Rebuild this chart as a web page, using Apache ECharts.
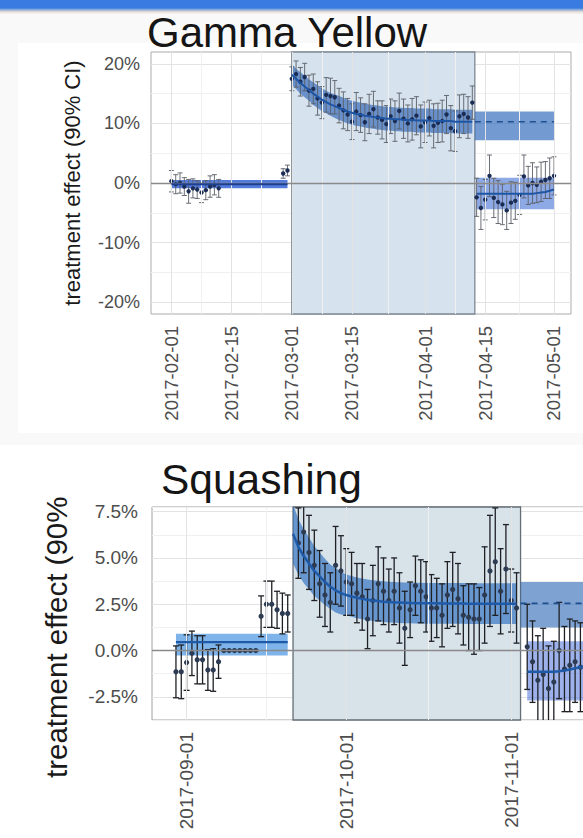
<!DOCTYPE html>
<html><head><meta charset="utf-8">
<script src="https://cdn.jsdelivr.net/npm/echarts@6/dist/echarts.min.js"></script>
<style>
html,body{margin:0;padding:0;width:583px;height:838px;overflow:hidden;background:#f9f9f9;}
#bar{position:absolute;left:0;top:0;width:583px;height:14px;background:linear-gradient(#3a7be2 0,#3a7be2 8px,#9ab6d6 10px,#eadfdc 12px,#f7f4f3 14px);}
#p1{position:absolute;left:18px;top:43px;width:565px;height:390px;background:#fff;}
#p2{position:absolute;left:0;top:445px;width:583px;height:393px;background:#fff;}
#chart{position:absolute;left:0;top:0;width:583px;height:838px;}
</style></head>
<body><div id="bar"></div><div id="p1"></div><div id="p2"></div><div id="chart"></div>
<script>
// ---------- Gamma Yellow ----------
const gyTicks = ['2017-02-01','2017-02-15','2017-03-01','2017-03-15','2017-04-01','2017-04-15','2017-05-01'];
const gyMinor = ['2017-02-08','2017-02-22','2017-03-08','2017-03-23 12:00','2017-04-08','2017-04-23'];
const gyShade = ['2017-03-01','2017-04-12 14:00'];
const gyPreStart = '2017-02-01';
const gyPreVals = [0.3,-0.2,0.0,-0.6,-1.4,-0.9,-1.1,-1.6,-1.2,-0.6,-0.3,-0.9];
const gyPreErr  = [1.8,1.6,1.7,1.5,2.0,1.6,1.5,1.7,1.6,1.8,1.7,1.5];
const gyLateStart = '2017-02-27';
const gyLateVals = [1.6,2.1];
const gyLateErr = [0.8,0.9];
const gyPreFitDates = ['2017-02-01','2017-02-28'];
const gyPreFit = [-0.2,-0.2];
const gyPreLo = [-0.9,-0.9];
const gyPreHi = [0.5,0.5];
const gyTreatStart = '2017-03-01';
const gyTreatVals = [17.5,18.3,17.0,17.8,15.5,15.8,14.2,13.5,14.8,14.6,
  14.4,13.0,12.2,11.5,10.3,12.0,11.4,10.2,11.6,12.4,
  11.0,10.6,9.9,11.2,10.4,12.1,10.8,10.0,10.7,11.3,
  9.5,10.2,10.9,9.6,10.1,10.4,11.5,9.2,8.7,11.2,
  11.6,11.0,13.5];
const gyTreatErr = [2.0,2.2,2.4,2.3,2.6,2.5,2.8,2.7,2.9,3.0,
  2.8,2.9,3.1,2.7,3.0,3.2,2.9,3.1,3.3,3.0,
  2.8,3.2,3.1,2.9,3.4,3.0,3.3,3.1,3.5,3.2,
  3.6,3.4,3.0,3.7,3.3,3.5,3.2,3.8,3.4,3.6,
  3.3,3.5,2.8];
const gyTreatFit = [18.2,17.5,16.8,16.2,15.6,15.0,14.5,14.0,13.6,13.2,
  12.9,12.6,12.3,12.0,11.8,11.6,11.5,11.3,11.2,11.1,
  11.0,10.9,10.8,10.8,10.7,10.7,10.6,10.6,10.6,10.5,
  10.5,10.5,10.5,10.4,10.4,10.4,10.4,10.4,10.3,10.3,
  10.3,10.3,10.3];
const gyTreatBand = [1.7,1.7,1.8,1.8,1.8,1.9,1.9,1.9,1.9,1.9,
  2.0,2.0,2.0,2.0,2.0,2.0,2.0,2.0,2.0,2.0,
  2.0,2.0,2.0,2.0,2.0,2.0,2.0,2.0,2.0,2.0,
  2.0,2.0,2.0,2.0,2.0,2.0,2.0,2.0,2.0,2.0,
  2.0,2.0,2.0];
const gyHoldDates = ['2017-04-12 14:00','2017-05-01'];
const gyHoldFit = [10.3,10.3];
const gyHoldLo = [7.2,7.2];
const gyHoldHi = [12.0,12.0];
const gyPostStart = '2017-04-13';
const gyPostVals = [-2.4,-4.2,-2.8,1.2,-2.5,-3.2,-3.6,-4.6,-3.3,-3.0,-2.0,1.1,-0.4,0.0,-0.3,0.2,0.5,0.8,1.2];
const gyPostErr  = [3.2,3.6,3.4,3.5,3.3,3.6,3.4,3.2,3.5,3.1,3.3,3.6,3.2,3.4,3.0,3.3,3.1,3.4,3.2];
const gyPostFit  = [-1.8,-1.8,-1.8,-1.8,-1.8,-1.8,-1.8,-1.8,-1.8,-1.8,-1.8,-1.8,-1.8,-1.8,-1.7,-1.6,-1.5,-1.3,-1.1];
const gyPostBandDates = ['2017-04-13','2017-05-01'];
const gyPostLo = [-4.4,-4.4];
const gyPostHi = [0.9,0.9];

// ---------- Squashing ----------
const sqTicks = ['2017-09-01','2017-10-01','2017-11-01'];
const sqMinor = ['2017-09-16','2017-10-16 12:00','2017-11-16'];
const sqShade = ['2017-09-21','2017-11-02 18:00'];
const sqPreStart = '2017-08-30';
const sqPreVals = [-1.15,-1.15,-0.65,-0.15,-0.5,-0.5,-1.05,-1.05,-0.6];
const sqPreErr  = [1.4,1.45,1.5,1.2,1.3,1.3,1.1,1.15,0.9];
const sqFlatStart = '2017-09-08';
const sqFlatVals = [0,0,0,0,0,0,0];
const sqFlatErr  = [0,0,0,0,0,0,0];
const sqLateStart = '2017-09-15';
const sqLateVals = [1.85,2.5,2.5,2.2,2.0,2.0];
const sqLateErr  = [1.1,1.25,1.25,1.0,1.1,1.0];
const sqPreFitDates = ['2017-08-30','2017-09-20'];
const sqPreFit = [0.45,0.45];
const sqPreLo = [-0.27,-0.27];
const sqPreHi = [0.9,0.9];
const sqTreatStart = '2017-09-22';
const sqTreatVals = [5.8,6.4,5.3,4.6,3.6,3.0,2.6,4.6,4.3,
  3.7,3.6,3.1,2.9,1.7,2.7,3.6,3.2,2.7,3.2,
  2.3,1.2,2.2,3.5,3.2,2.9,2.3,2.3,1.9,3.0,
  3.3,2.8,1.9,1.8,1.7,1.7,3.0,4.3,4.8,3.2,4.4,
  2.7,2.3];
const sqTreatErr = [1.9,2.2,2.0,1.9,1.8,1.7,1.6,2.1,1.9,
  1.8,1.7,1.6,1.8,1.6,1.9,2.0,1.8,1.7,1.8,
  1.9,2.0,1.5,1.6,1.7,1.9,1.8,1.6,1.7,1.8,
  2.0,1.9,1.6,1.8,1.9,1.7,2.6,3.0,2.9,2.3,2.4,
  1.7,1.9];
const sqFitStart = '2017-09-21';
const sqTreatFit = [6.3,5.6,5.1,4.7,4.3,4.0,3.7,3.45,3.25,3.1,
  3.0,2.92,2.85,2.79,2.74,2.7,2.67,2.64,2.62,2.6,
  2.59,2.58,2.57,2.56,2.56,2.55,2.55,2.55,2.54,2.54,
  2.54,2.54,2.54,2.53,2.53,2.53,2.53,2.53,2.53,2.53,
  2.53,2.53,2.53];
const sqTreatBand = [1.6,1.5,1.45,1.4,1.35,1.3,1.25,1.2,1.2,1.15,
  1.1,1.1,1.1,1.1,1.1,1.1,1.1,1.1,1.1,1.1,
  1.1,1.1,1.1,1.1,1.1,1.1,1.1,1.1,1.1,1.1,
  1.1,1.1,1.1,1.1,1.1,1.1,1.1,1.1,1.1,1.1,
  1.1,1.1,1.1];
const sqHoldDates = ['2017-11-02 18:00','2017-11-22'];
const sqHoldFit = [2.55,2.55];
const sqHoldLo = [1.25,1.25];
const sqHoldHi = [3.7,3.7];
const sqPostStart = '2017-11-04';
const sqPostVals = [0.2,-0.6,-1.6,-1.3,-2.05,-1.7,0.0,-1.0,-0.8,-0.6,-0.9];
const sqPostErr  = [2.3,2.2,2.4,2.5,2.3,2.2,2.6,2.3,2.5,2.2,2.4];
const sqPostFit  = [-1.15,-1.15,-1.15,-1.15,-1.15,-1.15,-1.12,-1.08,-1.02,-0.96,-0.9,-0.85,-0.8,-0.75,-0.7,-0.65,-0.6];
const sqPostBandDates = ['2017-11-04','2017-11-22'];
const sqPostLo = [-2.7,-2.7];
const sqPostHi = [0.5,0.5];

// ---------- helpers ----------
function ts(s){
  const parts = s.split(' ');
  const d = parts[0].split('-').map(Number);
  let h = 0, mi = 0;
  if (parts[1]) { const t = parts[1].split(':').map(Number); h = t[0]; mi = t[1]; }
  return new Date(d[0], d[1]-1, d[2], h, mi).getTime();
}
function days(start, n){
  const t0 = new Date(ts(start)); const out = [];
  for (let i = 0; i < n; i++) { const d = new Date(t0); d.setDate(d.getDate()+i); out.push(d.getTime()); }
  return out;
}
function pts(start, vals, errs){
  const ds = days(start, vals.length);
  return vals.map((v,i) => [ds[i], v, v-errs[i], v+errs[i]]);
}
function fmtDate(v){
  const d = new Date(v);
  const p = n => (n<10?'0':'')+n;
  return d.getFullYear()+'-'+p(d.getMonth()+1)+'-'+p(d.getDate());
}
const FONT = '"Liberation Sans", Arial, sans-serif';

function errSeries(gi, data, st){
  return {
    type:'custom', xAxisIndex:gi, yAxisIndex:gi, clip:true, z:4, silent:true,
    data: data, encode:{x:0, y:1},
    renderItem: function(params, api){
      const x = api.value(0);
      const p = api.coord([x, api.value(1)]);
      const lo = api.coord([x, api.value(2)]);
      const hi = api.coord([x, api.value(3)]);
      const c = st.cap;
      const ls = {stroke: st.bar, lineWidth: st.lw};
      return {type:'group', children:[
        {type:'line', shape:{x1:p[0], y1:lo[1], x2:p[0], y2:hi[1]}, style:ls},
        {type:'line', shape:{x1:p[0]-c, y1:lo[1], x2:p[0]+c, y2:lo[1]}, style:ls},
        {type:'line', shape:{x1:p[0]-c, y1:hi[1], x2:p[0]+c, y2:hi[1]}, style:ls},
        {type:'circle', shape:{cx:p[0], cy:p[1], r:st.r}, style:{fill:st.dot}}
      ]};
    }
  };
}
function bandSeries(gi, dates, lo, hi, color, z){
  const data = dates.map((d,i) => [d, lo[i], hi[i]]);
  return {
    type:'custom', xAxisIndex:gi, yAxisIndex:gi, clip:true, z:z, silent:true,
    data: data, encode:{x:0, y:1},
    renderItem: function(params, api){
      if (params.dataIndex !== 0) return null;
      const top = data.map(r => api.coord([r[0], r[2]]));
      const bot = data.map(r => api.coord([r[0], r[1]])).reverse();
      return {type:'polygon', shape:{points: top.concat(bot)}, style:{fill: color}};
    }
  };
}
function lineSeries(gi, dates, vals, color, width, dash){
  return {
    type:'line', xAxisIndex:gi, yAxisIndex:gi, z:6, silent:true,
    showSymbol:false, symbol:'none',
    data: vals.map((v,i) => [dates[i], v]),
    lineStyle:{color:color, width:width, type: dash ? [6,5] : 'solid'}
  };
}
function decorSeries(gi, shade, shadeColor, edgeColor, majors, minors){
  const vlines = majors.map(d => ({xAxis: ts(d), lineStyle:{color:'#e3e3e3', width:1, type:'solid'}}))
    .concat(minors.map(d => ({xAxis: ts(d), lineStyle:{color:'#f0f0f0', width:1, type:'solid'}})));
  return [
    {type:'line', xAxisIndex:gi, yAxisIndex:gi, z:1, silent:true, showSymbol:false, symbol:'none',
     data:[[ts(shade[0]),0],[ts(shade[1]),0]], lineStyle:{opacity:0},
     markLine:{silent:true, symbol:['none','none'], label:{show:false}, animation:false, data: vlines}
    },
    {type:'line', xAxisIndex:gi, yAxisIndex:gi, z:2, silent:true, showSymbol:false, symbol:'none',
     data:[[ts(shade[0]),0],[ts(shade[1]),0]], lineStyle:{opacity:0},
     markArea:{silent:true, itemStyle:{color:shadeColor, opacity:1, borderColor:edgeColor, borderWidth:1.3},
       data:[[{xAxis: ts(shade[0])},{xAxis: ts(shade[1])}]]},
     markLine:{silent:true, symbol:['none','none'], label:{show:false}, animation:false,
       data:[{yAxis:0, lineStyle:{color:'#8a8a8a', width:1.3, type:'solid'}}]}
    }
  ];
}

const gyDot = {bar:'#5a5f66', lw:0.9, cap:2.5, r:2.2, dot:'#1b2d55'};
const sqDot = {bar:'#1e2024', lw:1.3, cap:3, r:2.6, dot:'#2c3a52'};
const T = '#4d4d4d';

const gyMajorsTs = gyTicks.map(ts);
const sqMajorsTs = sqTicks.map(ts);

const option = {
  animation:false,
  backgroundColor:'transparent',
  title:[
    {text:'Gamma Yellow', left:147, top:11, padding:0,
     textStyle:{fontFamily:FONT, fontSize:42, fontWeight:'normal', color:'#151515'}},
    {text:'Squashing', left:161, top:458, padding:0,
     textStyle:{fontFamily:FONT, fontSize:42.5, fontWeight:'normal', color:'#151515'}}
  ],
  graphic:[
    {type:'text', x:72, y:183, rotation:Math.PI/2,
     style:{text:'treatment effect (90% CI)', fontFamily:FONT, fontSize:22, fill:'#1a1a1a', align:'center', verticalAlign:'middle'}},
    {type:'text', x:56, y:778, rotation:Math.PI/2,
     style:{text:'treatment effect (90%', fontFamily:FONT, fontSize:29.5, fill:'#1a1a1a', align:'left', verticalAlign:'middle'}}
  ],
  grid:[
    {left:151, top:52, width:420, height:262, show:true, backgroundColor:'#ffffff', borderColor:'#ababab', borderWidth:1, containLabel:false, outerBoundsMode:'none'},
    {left:152, top:507, width:471, height:213, show:true, backgroundColor:'#ffffff', borderColor:'#a0a0a0', borderWidth:1, containLabel:false, outerBoundsMode:'none'}
  ],
  xAxis:[
    {type:'value', gridIndex:0, min:ts('2017-01-27 06:00'), max:ts('2017-05-04 23:00'), scale:true,
     axisLine:{show:false}, splitLine:{show:false},
     axisTick:{show:true, customValues:gyMajorsTs, length:4, lineStyle:{color:'#8a8a8a'}},
     axisLabel:{customValues:gyMajorsTs, rotate:90, margin:12, fontFamily:FONT, fontSize:18.5, color:T, formatter: v => fmtDate(v)}},
    {type:'value', gridIndex:1, min:ts('2017-08-25 12:00'), max:ts('2017-11-22'), scale:true,
     axisLine:{show:false}, splitLine:{show:false},
     axisTick:{show:true, customValues:sqMajorsTs, length:4, lineStyle:{color:'#8a8a8a'}},
     axisLabel:{customValues:sqMajorsTs, rotate:90, margin:12, fontFamily:FONT, fontSize:19, color:T, formatter: v => fmtDate(v)}}
  ],
  yAxis:[
    {type:'value', gridIndex:0, min:-22, max:22, interval:1,
     axisLine:{show:false}, axisTick:{show:false},
     splitLine:{show:true, showMinLine:true, showMaxLine:true, lineStyle:{width:1, color:['rgba(0,0,0,0)','rgba(0,0,0,0)','#e3e3e3','rgba(0,0,0,0)','rgba(0,0,0,0)','rgba(0,0,0,0)','rgba(0,0,0,0)','#f0f0f0','rgba(0,0,0,0)','rgba(0,0,0,0)']}},
     axisLabel:{margin:11, fontFamily:FONT, fontSize:18, color:T,
       formatter: v => (Math.abs(v % 10) < 1e-9 ? v + '%' : '')}},
    {type:'value', gridIndex:1, min:-3.75, max:7.75, interval:1.25,
     axisLine:{show:false}, axisTick:{show:false},
     splitLine:{show:true, showMinLine:true, showMaxLine:true, lineStyle:{width:1, color:['#f0f0f0','#e3e3e3']}},
     axisLabel:{margin:14, fontFamily:FONT, fontSize:19, color:T,
       formatter: v => { const r = v/2.5; return Math.abs(r - Math.round(r)) < 1e-6 ? v.toFixed(1) + '%' : ''; }}}
  ],
  series: [].concat(
    decorSeries(0, gyShade, 'rgba(214,226,237,1)', '#7d8995', gyTicks, gyMinor),
    [
      bandSeries(0, gyPreFitDates.map(ts), gyPreLo, gyPreHi, 'rgba(40,90,210,0.8)', 3),
      bandSeries(0, days(gyTreatStart, gyTreatFit.length), gyTreatFit.map((v,i)=>v-gyTreatBand[i]), gyTreatFit.map((v,i)=>v+gyTreatBand[i]), 'rgba(30,90,180,0.6)', 3),
      bandSeries(0, gyHoldDates.map(ts), gyHoldLo, gyHoldHi, 'rgba(40,100,185,0.65)', 3),
      bandSeries(0, gyPostBandDates.map(ts), gyPostLo, gyPostHi, 'rgba(50,100,210,0.55)', 3),
      errSeries(0, pts(gyPreStart, gyPreVals, gyPreErr), gyDot),
      errSeries(0, pts(gyLateStart, gyLateVals, gyLateErr), gyDot),
      errSeries(0, pts(gyTreatStart, gyTreatVals, gyTreatErr), gyDot),
      errSeries(0, pts(gyPostStart, gyPostVals, gyPostErr), gyDot),
      lineSeries(0, gyPreFitDates.map(ts), gyPreFit, '#1d3f8f', 2, false),
      lineSeries(0, days(gyTreatStart, gyTreatFit.length), gyTreatFit, '#1f55a5', 2, false),
      lineSeries(0, gyHoldDates.map(ts), gyHoldFit, '#1e4f90', 1.5, true),
      lineSeries(0, days(gyPostStart, gyPostFit.length), gyPostFit, '#1f55a5', 2, false)
    ],
    decorSeries(1, sqShade, 'rgba(216,226,233,1)', '#646e77', sqTicks, sqMinor),
    [
      bandSeries(1, sqPreFitDates.map(ts), sqPreLo, sqPreHi, 'rgba(40,130,220,0.6)', 3),
      bandSeries(1, days(sqFitStart, sqTreatFit.length), sqTreatFit.map((v,i)=>v-sqTreatBand[i]), sqTreatFit.map((v,i)=>v+sqTreatBand[i]), 'rgba(30,100,190,0.6)', 3),
      bandSeries(1, sqHoldDates.map(ts), sqHoldLo, sqHoldHi, 'rgba(40,100,180,0.6)', 3),
      bandSeries(1, sqPostBandDates.map(ts), sqPostLo, sqPostHi, 'rgba(60,100,215,0.5)', 3),
      errSeries(1, pts(sqPreStart, sqPreVals, sqPreErr), sqDot),
      errSeries(1, pts(sqFlatStart, sqFlatVals, sqFlatErr), sqDot),
      errSeries(1, pts(sqLateStart, sqLateVals, sqLateErr), sqDot),
      errSeries(1, pts(sqTreatStart, sqTreatVals, sqTreatErr), sqDot),
      errSeries(1, pts(sqPostStart, sqPostVals, sqPostErr), sqDot),
      lineSeries(1, sqPreFitDates.map(ts), sqPreFit, '#1e5aa8', 2.2, false),
      lineSeries(1, days(sqFitStart, sqTreatFit.length), sqTreatFit, '#1e5aa8', 2.5, false),
      lineSeries(1, sqHoldDates.map(ts), sqHoldFit, '#1e4f90', 1.8, true),
      lineSeries(1, days(sqPostStart, sqPostFit.length), sqPostFit, '#1e5aa8', 2.5, false)
    ]
  )
};
const chart = echarts.init(document.getElementById('chart'), null, {renderer:'svg'});
chart.setOption(option);
</script></body></html>
